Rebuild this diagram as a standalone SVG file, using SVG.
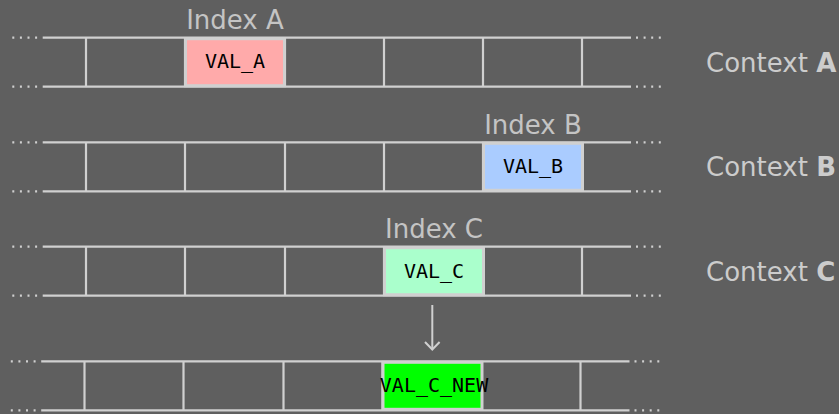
<svg xmlns="http://www.w3.org/2000/svg" width="839" height="414" viewBox="0 0 839 414">
  <style>
    .rail { stroke: #d0d0d0; stroke-width: 2.2; fill: none; }
    .dots { stroke: #d0d0d0; stroke-width: 2.2; fill: none; stroke-dasharray: 2 5.6; }
    .div  { stroke: #d0d0d0; stroke-width: 2.2; }
    .cell { stroke: #d0d0d0; stroke-width: 3; }
    .idx  { font-family: "DejaVu Sans", sans-serif; font-size: 26px; fill: #c4c4c4; text-anchor: middle; }
    .ctx  { font-family: "DejaVu Sans", sans-serif; font-size: 26px; fill: #cccccc; }
    .ctx tspan { font-weight: bold; }
    .val  { font-family: "DejaVu Sans Mono", monospace; font-size: 20px; fill: #000000; text-anchor: middle; }
  </style>
  <defs>
    <!-- one memory strip: two rails, dotted continuations, cell dividers -->
    <g id="strip">
      <line class="rail" x1="42.7" y1="0" x2="631" y2="0"/>
      <line class="rail" x1="42.7" y1="49" x2="631" y2="49"/>
      <line class="dots" x1="12.3" y1="0" x2="42" y2="0"/>
      <line class="dots" x1="12.3" y1="49" x2="42" y2="49"/>
      <line class="dots" x1="636" y1="0" x2="664" y2="0"/>
      <line class="dots" x1="636" y1="49" x2="664" y2="49"/>
      <line class="div" x1="86" y1="0" x2="86" y2="49"/>
      <line class="div" x1="185" y1="0" x2="185" y2="49"/>
      <line class="div" x1="285" y1="0" x2="285" y2="49"/>
      <line class="div" x1="384" y1="0" x2="384" y2="49"/>
      <line class="div" x1="483" y1="0" x2="483" y2="49"/>
      <line class="div" x1="582" y1="0" x2="582" y2="49"/>
    </g>
  </defs>

  <rect width="839" height="414" fill="#5f5f5f"/>

  <g id="context-a">
    <use href="#strip" x="0" y="37.7"/>
    <rect class="cell" x="185.5" y="38.7" width="99" height="47" fill="#ffaaaa"/>
    <text class="val" x="235" y="68.3">VAL_A</text>
    <text class="idx" x="235" y="29">Index A</text>
    <text class="ctx" x="706" y="71.5">Context <tspan>A</tspan></text>
  </g>

  <g id="context-b">
    <use href="#strip" x="0" y="142.3"/>
    <rect class="cell" x="483.5" y="143.3" width="99" height="47" fill="#aaccff"/>
    <text class="val" x="533" y="172.7">VAL_B</text>
    <text class="idx" x="533" y="134">Index B</text>
    <text class="ctx" x="706" y="176">Context <tspan>B</tspan></text>
  </g>

  <g id="context-c">
    <use href="#strip" x="0" y="246.7"/>
    <rect class="cell" x="384.5" y="247.7" width="99" height="47" fill="#aaffcc"/>
    <text class="val" x="434" y="278.3">VAL_C</text>
    <text class="idx" x="434" y="237.5">Index C</text>
    <text class="ctx" x="706" y="280.5">Context <tspan>C</tspan></text>
  </g>

  <g id="context-c-new">
    <use href="#strip" x="-1.5" y="361.3"/>
    <rect class="cell" x="383" y="362.3" width="99" height="47" fill="#00ff00"/>
    <text class="val" x="434" y="392">VAL_C_NEW</text>
  </g>

  <g id="connectors">
    <line x1="432.3" y1="305" x2="432.3" y2="349" stroke="#d0d0d0" stroke-width="2"/>
    <polyline points="425,342 432.3,349.5 439.6,342" fill="none" stroke="#d0d0d0" stroke-width="2"/>
  </g>
</svg>
